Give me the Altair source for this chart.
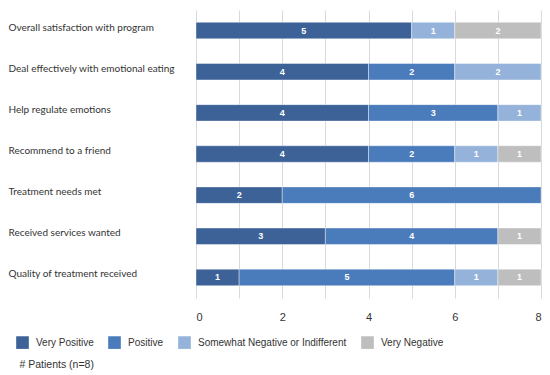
import altair as alt
import pandas as pd

questions = [
    "Overall satisfaction with program",
    "Deal effectively with emotional eating",
    "Help regulate emotions",
    "Recommend to a friend",
    "Treatment needs met",
    "Received services wanted",
    "Quality of treatment received",
]
categories = ["Very Positive", "Positive", "Somewhat Negative or Indifferent", "Very Negative"]
very_positive = [5, 4, 4, 4, 2, 3, 1]
positive = [0, 2, 3, 2, 6, 4, 5]
somewhat_negative = [1, 2, 1, 1, 0, 0, 1]
very_negative = [2, 0, 0, 1, 0, 1, 1]
colors = ["#3D6298", "#4A7BBB", "#95B3DA", "#BEBEBE"]

rows = []
for ci, (cat, vals) in enumerate(zip(categories, [very_positive, positive, somewhat_negative, very_negative])):
    for q, v in zip(questions, vals):
        if v > 0:
            rows.append({"question": q, "category": cat, "order": ci, "count": v})
df = pd.DataFrame(rows)

base = alt.Chart(df).transform_stack(
    stack="count", groupby=["question"], as_=["x0", "x1"], sort=[alt.SortField("order")]
).transform_calculate(mid="(datum.x0 + datum.x1) / 2")

yenc = alt.Y(
    "question:N",
    sort=questions,
    scale=alt.Scale(paddingInner=0.6, paddingOuter=0.3),
    axis=alt.Axis(
        title=None, domain=False, ticks=False, grid=False,
        labelAlign="left", labelPadding=188, labelOffset=-3,
        labelFont="Lato", labelFontSize=10, labelColor="#333333", labelLimit=200,
    ),
)

bars = base.mark_bar(stroke="white", strokeWidth=0.4).encode(
    x=alt.X(
        "x0:Q",
        scale=alt.Scale(domain=[0, 8], nice=False),
        axis=alt.Axis(
            title="# Patients (n=8)", values=[0, 1, 2, 3, 4, 5, 6, 7, 8],
            labelExpr="datum.value % 2 == 0 ? datum.label : ''",
            domain=False, ticks=False, grid=True, gridColor="#D9D9D9",
            labelPadding=13, labelFont="Liberation Sans", labelFontSize=11, labelColor="#333333",
            titleX=-177, titleY=66, titleAlign="left", titleBaseline="middle",
            titleFont="Liberation Sans", titleFontSize=10.5, titleFontWeight="normal", titleColor="#333333",
        ),
    ),
    x2="x1:Q",
    y=yenc,
    color=alt.Color(
        "category:N",
        sort=categories,
        scale=alt.Scale(domain=categories, range=colors),
        legend=alt.Legend(
            title=None, orient="none", direction="horizontal", legendX=-180, legendY=326,
            symbolType="square", symbolSize=160, symbolStrokeWidth=0, symbolOpacity=1,
            labelFont="Liberation Sans", labelFontSize=10, labelColor="#333333",
            labelOffset=7, columnPadding=14, labelLimit=300,
        ),
    ),
)

texts = base.mark_text(color="white", fontWeight="bold", fontSize=9, font="Liberation Sans").encode(
    x="mid:Q",
    y=alt.Y("question:N", sort=questions),
    text="count:Q",
)

chart = (bars + texts).properties(
    width=345, height=288, padding={"left": 0, "top": 2, "right": 0, "bottom": 0}
).configure_view(stroke=None)

chart.save("out.html", embed_options={"renderer": "svg", "actions": False})
